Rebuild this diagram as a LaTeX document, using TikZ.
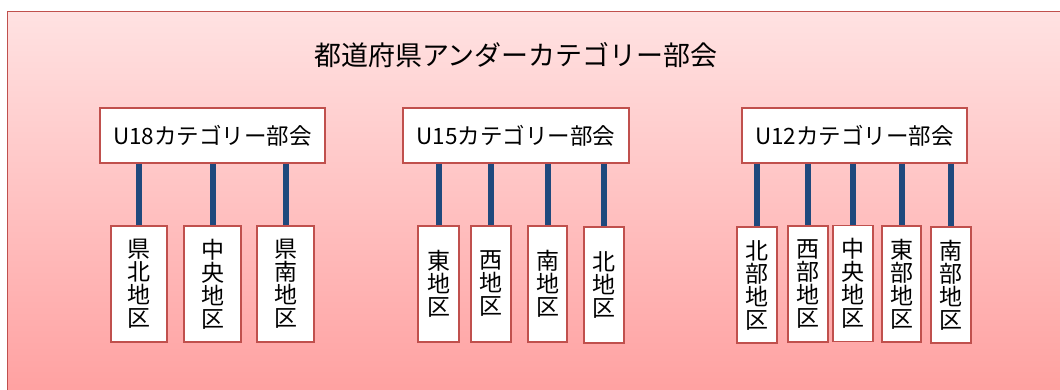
\documentclass[tikz,border=0pt]{standalone}
\usepackage{fontspec}
\setmainfont{Noto Sans CJK JP}
\definecolor{boxred}{RGB}{192,80,77}
\definecolor{linkblue}{RGB}{31,73,125}
\definecolor{bgtop}{RGB}{255,226,226}
\definecolor{bgbot}{RGB}{255,158,158}
\tikzset{
  catbox/.style={draw=boxred, line width=1.5pt, fill=white, inner sep=0pt,
    minimum width=225pt, minimum height=55pt, font=\fontsize{22.5}{26}\selectfont},
  distbox/.style={draw=boxred, line width=1.5pt, fill=white, inner sep=0pt,
    minimum width=40pt, minimum height=116pt, align=center,
    font=\fontsize{23}{23}\selectfont},
  conn/.style={draw=linkblue, line width=6pt},
  titletext/.style={font=\fontsize{27}{30}\selectfont}
}
\begin{document}
\begin{tikzpicture}[x=1pt,y=-1pt]
\useasboundingbox (0,0) rectangle (1060,390);
\clip (0,0) rectangle (1060,390);
\shade[top color=bgtop, bottom color=bgbot] (7,12) rectangle (1080,410);
\draw[boxred, line width=1pt] (7,12) rectangle (1080,410);
\node[titletext] (title) at (516,55) {都道府県アンダーカテゴリー部会};
% U18
\node[catbox] (u18) at (212.5,135.5) {U18カテゴリー部会};
\node[distbox, minimum width=56pt] (a1) at (139,284) {県\\北\\地\\区};
\node[distbox, minimum width=57pt] (a2) at (212.5,284) {中\\央\\地\\区};
\node[distbox, minimum width=57pt] (a3) at (285.5,284) {県\\南\\地\\区};
% U15
\node[catbox, minimum width=226pt] (u15) at (516,135.5) {U15カテゴリー部会};
\node[distbox, minimum width=41pt] (b1) at (438.5,284) {東\\地\\区};
\node[distbox] (b2) at (491,284) {西\\地\\区};
\node[distbox, minimum width=39pt] (b3) at (547.5,284) {南\\地\\区};
\node[distbox] (b4) at (604,285) {北\\地\\区};
% U12
\node[catbox] (u12) at (854.5,135.5) {U12カテゴリー部会};
\node[distbox] (c1) at (757,285) {北\\部\\地\\区};
\node[distbox] (c2) at (808,284) {西\\部\\地\\区};
\node[distbox] (c3) at (853,283.5) {中\\央\\地\\区};
\node[distbox, minimum width=39pt] (c4) at (901.5,284) {東\\部\\地\\区};
\node[distbox] (c5) at (951,285) {南\\部\\地\\区};
% connectors
\foreach \d in {a1,a2,a3} \draw[conn] (\d.north |- u18.south) -- (\d.north);
\foreach \d in {b1,b2,b3,b4} \draw[conn] (\d.north |- u15.south) -- (\d.north);
\foreach \d in {c1,c2,c3,c4,c5} \draw[conn] (\d.north |- u12.south) -- (\d.north);
\end{tikzpicture}
\end{document}
